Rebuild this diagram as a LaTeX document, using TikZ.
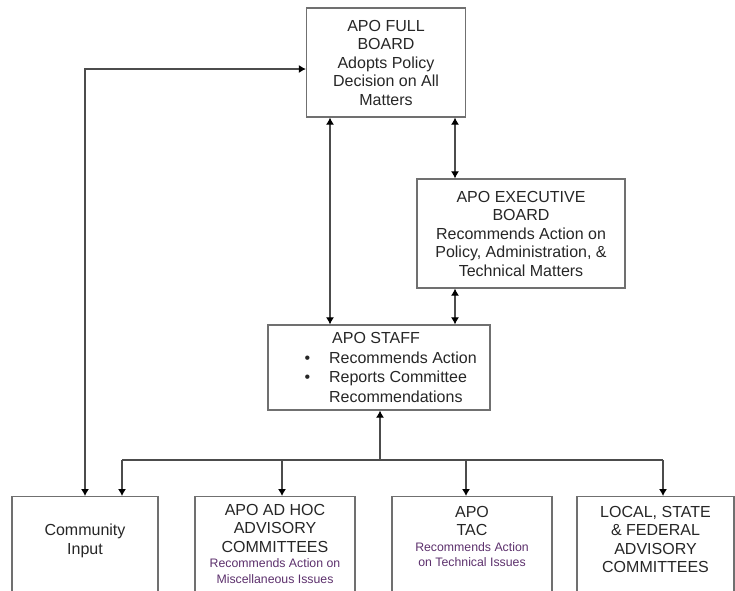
\documentclass[tikz,border=0pt]{standalone}
\usepackage{fontspec}
\setmainfont{Liberation Sans}
\usetikzlibrary{arrows.meta}
\definecolor{wiregray}{RGB}{112,112,112}
\definecolor{notepurple}{RGB}{92,48,108}
\newcommand{\notetext}[1]{{\fontsize{12.3}{15}\selectfont\color{notepurple}#1}}
\tikzset{
    box/.style={draw=wiregray, line width=1.3pt, inner sep=0pt},
    lbl/.style={align=center, inner sep=0pt, text=black!85, font=\fontsize{16}{18.5}\selectfont},
    wire/.style={draw=black!70, line width=1.1pt},
    feed/.style={wire, -{Latex[length=7pt, width=8pt, color=black]}},
    link/.style={wire, {Latex[length=7pt, width=8pt, color=black]}-{Latex[length=7pt, width=8pt, color=black]}}
}
\begin{document}
\begin{tikzpicture}[x=1pt, y=-1pt]
          \useasboundingbox (0,0) rectangle (735,590);
          \clip (0,0) rectangle (735,590);
          \node [box, lbl, minimum width=159pt, minimum height=109pt] (full) at (386,62.5) {APO FULL\\BOARD\\Adopts Policy\\Decision on All\\Matters};
          \node [box, lbl, minimum width=208pt, minimum height=109pt] (exec) at (521,233.5) {APO EXECUTIVE\\BOARD\\Recommends Action on\\Policy, Administration, \&\\Technical Matters};
          \node [box, minimum width=222pt, minimum height=85pt] (staff) at (379,367.5) {};
          \node [lbl, anchor=west] (stafftext) at ([xshift=37pt, yshift=-1.5pt]staff.west) {\renewcommand{\arraystretch}{1.05}\begin{tabular}{@{}c@{\hspace{19pt}}l@{}}
              & \hspace*{3pt}APO STAFF\\
              \textbullet & Recommends Action\\
              \textbullet & Reports Committee\\
              & Recommendations
            \end{tabular}};
          \node [box, minimum width=146pt, minimum height=130pt, anchor=north] (comm) at (85,496) {};
          \node [box, minimum width=160pt, minimum height=130pt, anchor=north] (adhoc) at (275,496) {};
          \node [box, minimum width=160pt, minimum height=130pt, anchor=north] (tac) at (472,496) {};
          \node [box, minimum width=157pt, minimum height=130pt, anchor=north] (local) at (655.5,496) {};
          \node [lbl, anchor=north] (commtext) at ([yshift=-28pt]comm.north) {Community\\Input};
          \node [lbl, anchor=north] (adhoctext) at ([yshift=-8pt]adhoc.north) {APO AD HOC\\ADVISORY\\COMMITTEES\\[-3pt]\notetext{Recommends Action on}\\[-3pt]\notetext{Miscellaneous Issues}};
          \node [lbl, anchor=north] (tactext) at ([yshift=-10pt]tac.north) {APO\\TAC\\[-3pt]\notetext{Recommends Action}\\[-3pt]\notetext{on Technical Issues}};
          \node [lbl, anchor=north] (localtext) at ([yshift=-10pt]local.north) {LOCAL, STATE\\\& FEDERAL\\ADVISORY\\COMMITTEES};
          \coordinate (corner) at (85,69);
          \coordinate (railL) at (330,0);
          \coordinate (railR) at (455,0);
          \coordinate (bus) at (380,460);
          \coordinate (busL) at (122,460);
          \coordinate (dropA) at (282,460);
          \coordinate (dropT) at (466,460);
          \coordinate (busR) at (663,460);
          \draw [link] (full.west |- corner) -- (corner) -- (corner |- comm.north);
          \draw [link] (full.south -| railL) -- (staff.north -| railL);
          \draw [link] (full.south -| railR) -- (exec.north -| railR);
          \draw [link] (exec.south -| railR) -- (staff.north -| railR);
          \draw [wire] (busL) -- (busR);
          \draw [feed] (bus) -- (staff.south -| bus);
          \foreach \drop/\dst in {busL/comm, dropA/adhoc, dropT/tac, busR/local}
            \draw [feed] (\drop) -- (\dst.north -| \drop);
        \end{tikzpicture}
\end{document}
